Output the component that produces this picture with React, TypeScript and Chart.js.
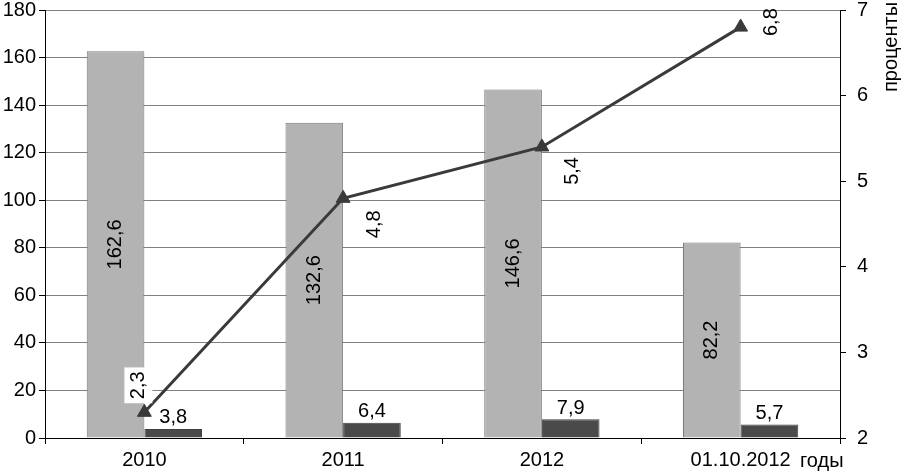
import React, { useEffect, useRef } from "react";
import { Chart, registerables } from "chart.js";

Chart.register(...registerables);

const categories = ["2010", "2011", "2012", "01.10.2012"];
const lightValues = [162.6, 132.6, 146.6, 82.2];
const darkValues = [3.8, 6.4, 7.9, 5.7];
const percentValues = [2.3, 4.8, 5.4, 6.8];
const xAxisTitle = "годы";
const rightAxisTitle = "проценты";

const FONT = "'Liberation Sans', Arial, sans-serif";
const FS = 20;
// label offsets for the line labels (style, not data)
const lineLabelOffsets = [
  [-6, -27],
  [31, 26],
  [31, 24],
  [31, -5],
];

const fmt = (v: number) => v.toFixed(1).replace(".", ",");

const labelPlugin = {
  id: "labelPlugin",
  afterDatasetsDraw(chart: any) {
    const ctx = chart.ctx;
    ctx.save();
    ctx.font = `${FS}px ${FONT}`;
    ctx.fillStyle = "#000";
    const mLight = chart.getDatasetMeta(1);
    mLight.data.forEach((el: any, i: number) => {
      ctx.save();
      ctx.translate(el.x, (el.y + el.base) / 2);
      ctx.rotate(-Math.PI / 2);
      ctx.textAlign = "center";
      ctx.textBaseline = "middle";
      ctx.fillText(fmt(lightValues[i]), 0, 0);
      ctx.restore();
    });
    const mDark = chart.getDatasetMeta(2);
    mDark.data.forEach((el: any, i: number) => {
      ctx.textAlign = "center";
      ctx.textBaseline = "bottom";
      ctx.fillText(fmt(darkValues[i]), el.x, el.y - 1);
    });
    const mLine = chart.getDatasetMeta(0);
    mLine.data.forEach((el: any, i: number) => {
      const [dx, dy] = lineLabelOffsets[i];
      const t = fmt(percentValues[i]);
      ctx.save();
      ctx.translate(el.x + dx, el.y + dy);
      ctx.rotate(-Math.PI / 2);
      const w = ctx.measureText(t).width;
      if (i === 0) {
        ctx.fillStyle = "#fff";
        ctx.fillRect(-w / 2 - 4, -14, w + 8, 28);
      }
      ctx.fillStyle = "#000";
      ctx.textAlign = "center";
      ctx.textBaseline = "middle";
      ctx.fillText(t, 0, 0);
      ctx.restore();
    });
    ctx.restore();
  },
  afterDraw(chart: any) {
    const ctx = chart.ctx;
    const area = chart.chartArea;
    ctx.save();
    ctx.font = `${FS}px ${FONT}`;
    ctx.fillStyle = "#000";
    ctx.textAlign = "left";
    ctx.textBaseline = "middle";
    ctx.fillText(xAxisTitle, area.right - 40, 461);
    ctx.translate(area.right + 51, area.top + 37);
    ctx.rotate(-Math.PI / 2);
    ctx.textAlign = "center";
    ctx.fillText(rightAxisTitle, 0, 0);
    ctx.restore();
  },
};

export default function App() {
  const ref = useRef<HTMLCanvasElement | null>(null);
  useEffect(() => {
    if (!ref.current) return;
    const font = { family: FONT, size: FS };
    const chart = new Chart(ref.current, {
      type: "bar",
      data: {
        labels: categories,
        datasets: [
          {
            type: "line",
            data: percentValues,
            yAxisID: "y1",
            borderColor: "#3a3a3a",
            backgroundColor: "#3a3a3a",
            borderWidth: 3,
            pointStyle: "triangle",
            pointRadius: 8,
            pointBorderWidth: 1,
            order: 0,
          } as any,
          {
            data: lightValues,
            yAxisID: "y",
            backgroundColor: "#b3b3b3",
            borderColor: "#7a7a7a",
            borderWidth: 1,
            order: 1,
          },
          {
            data: darkValues,
            yAxisID: "y",
            backgroundColor: "#4a4a4a",
            borderColor: "#404040",
            borderWidth: 1,
            order: 1,
          },
        ],
      },
      options: {
        responsive: false,
        animation: false,
        layout: { padding: { top: 10, left: 0, right: 0, bottom: 0 } },
        plugins: { legend: { display: false }, tooltip: { enabled: false } },
        datasets: { bar: { categoryPercentage: 0.58, barPercentage: 1 } },
        scales: {
          x: {
            offset: true,
            grid: {
              offset: true,
              drawOnChartArea: false,
              drawTicks: true,
              tickLength: 6,
              tickColor: "#000",
            },
            border: { color: "#000", width: 1 },
            ticks: { font, color: "#000", padding: 4, maxRotation: 0 },
            afterFit: (s: any) => {
              s.height = 34;
              s.paddingLeft = 0;
              s.paddingRight = 0;
            },
          },
          y: {
            position: "left",
            min: 0,
            max: 180,
            ticks: { stepSize: 20, font, color: "#000", padding: 3 },
            grid: { color: "#808080", tickColor: "#000", tickLength: 6 },
            border: { color: "#000", width: 1 },
            afterFit: (s: any) => {
              s.width = 45;
              s.paddingTop = 0;
              s.paddingBottom = 0;
            },
          },
          y1: {
            position: "right",
            min: 2,
            max: 7,
            ticks: { stepSize: 1, font, color: "#000", padding: 11 },
            grid: { drawOnChartArea: false, tickColor: "#000", tickLength: 6 },
            border: { color: "#000", width: 1 },
            afterFit: (s: any) => {
              s.width = 62;
              s.paddingTop = 0;
              s.paddingBottom = 0;
            },
          },
        },
      } as any,
      plugins: [labelPlugin],
    });
    return () => chart.destroy();
  }, []);
  return (
    <canvas
      ref={ref}
      width={902}
      height={472}
      style={{ position: "absolute", left: 0, top: 0, display: "block", background: "#fff" }}
    />
  );
}
